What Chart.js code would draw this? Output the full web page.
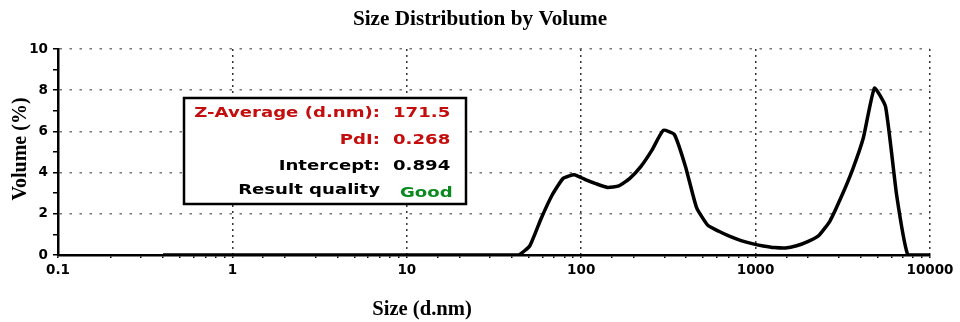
<!DOCTYPE html>
<html>
<head>
<meta charset="utf-8">
<title>Size Distribution by Volume</title>
<script src="https://cdn.jsdelivr.net/npm/chart.js@4.4.1/dist/chart.umd.min.js"></script>
<style>
  html, body { margin: 0; padding: 0; background: #fff; }
  canvas { display: block; }
</style>
</head>
<body>
<canvas id="sizeChart" width="960" height="322"></canvas>
<script>
// size classes (d.nm)
var sizes = [0.4, 0.4632, 0.5365, 0.6213, 0.7195, 0.8332, 0.9649, 1.117, 1.294, 1.499,
    1.736, 2.010, 2.328, 2.696, 3.122, 3.615, 4.187, 4.849, 5.615, 6.503,
    7.531, 8.721, 10.10, 11.70, 13.54, 15.69, 18.17, 21.04, 24.36, 28.21,
    32.67, 37.84, 43.82, 50.75, 58.77, 68.06, 78.82, 91.28, 105.7, 122.4,
    141.8, 164.2, 190.1, 220.2, 255.0, 295.3, 342.0, 396.1, 458.7, 531.2,
    615.1, 712.4, 825.0, 955.4, 1106, 1281, 1484, 1718, 1990, 2305,
    2669, 3091, 3580, 4145, 4801, 5560, 6439, 7456, 8635, 10000];

// volume (%)
var volumes = [0, 0, 0, 0, 0, 0, 0, 0, 0, 0,
    0, 0, 0, 0, 0, 0, 0, 0, 0, 0,
    0, 0, 0, 0, 0, 0, 0, 0, 0, 0,
    0, 0, 0, 0.45, 1.75, 2.9, 3.72, 3.9, 3.66, 3.45,
    3.28, 3.35, 3.72, 4.3, 5.1, 6.05, 5.85, 4.3, 2.3, 1.45,
    1.15, 0.9, 0.7, 0.55, 0.44, 0.36, 0.34, 0.45, 0.65, 0.95,
    1.65, 2.8, 4.1, 5.68, 8.1, 7.2, 2.9, 0, 0, 0];

var xTickLabels = ['0.1', '1', '10', '100', '1000', '10000'];
var yTickLabels = ['0', '2', '4', '6', '8', '10'];

var statLabels = ['Z-Average (d.nm):', 'PdI:', 'Intercept:', 'Result quality'];
var statValues = ['171.5', '0.268', '0.894', 'Good'];

function isDecade(v) {
    var lg = Math.log10(v);
    return Math.abs(lg - Math.round(lg)) < 1e-6;
}

// text drawn stretched horizontally like the original export
function wideText(ctx, text, x, y, sx, align) {
    ctx.save();
    ctx.translate(x, y);
    ctx.scale(sx, 1);
    ctx.textAlign = align;
    ctx.fillText(text, 0, 0);
    ctx.restore();
}

var tickFont = { family: 'DejaVu Sans', weight: 'bold', size: 13.5 };

var labelsPlugin = {
    id: 'labels',
    afterDraw: function (chart) {
        var ctx = chart.ctx;
        var ca = chart.chartArea;

        ctx.save();
        ctx.fillStyle = '#000';
        ctx.textBaseline = 'alphabetic';

        // title and axis titles
        ctx.font = 'bold 20px "Liberation Serif"';
        wideText(ctx, 'Size Distribution by Volume', 480, 25, 1.06, 'center');
        wideText(ctx, 'Size (d.nm)', 422, 315, 1.03, 'center');

        ctx.save();
        ctx.translate(26, 149);
        ctx.rotate(-Math.PI / 2);
        ctx.textAlign = 'center';
        ctx.fillText('Volume (%)', 0, 0);
        ctx.restore();

        // results box
        var bx = ca.left + 126, by = ca.top + 49, bw = 282, bh = 106;
        ctx.fillStyle = '#fff';
        ctx.fillRect(bx, by, bw, bh);
        ctx.lineWidth = 2.5;
        ctx.strokeStyle = '#000';
        ctx.strokeRect(bx, by, bw, bh);

        var colors = ['#c40d0d', '#c40d0d', '#000', '#000'];
        var valueColors = ['#c40d0d', '#c40d0d', '#000', '#0a8a1e'];
        var baselines = [19, 46, 72, 96];
        ctx.font = 'bold 13.5px "DejaVu Sans"';
        for (var i = 0; i < statLabels.length; i++) {
            ctx.fillStyle = colors[i];
            wideText(ctx, statLabels[i], bx + 196, by + baselines[i], 1.34, 'right');
            ctx.fillStyle = valueColors[i];
            if (i === 3) {
                wideText(ctx, statValues[i], bx + 216, by + baselines[i] + 3, 1.34, 'left');
            } else {
                wideText(ctx, statValues[i], bx + 209, by + baselines[i], 1.34, 'left');
            }
        }
        ctx.restore();
    }
};

var points = sizes.map(function (s, i) { return { x: s, y: volumes[i] }; });

new Chart(document.getElementById('sizeChart'), {
    type: 'line',
    data: {
        datasets: [{
            data: points,
            borderColor: '#000',
            borderWidth: 3.5,
            pointRadius: 0,
            tension: 0.15,
            fill: false
        }]
    },
    options: {
        responsive: false,
        animation: false,
        devicePixelRatio: 1,
        layout: { padding: { top: 49, right: 30, bottom: 0, left: 0 } },
        plugins: {
            legend: { display: false },
            tooltip: { enabled: false },
            title: { display: false }
        },
        scales: {
            x: {
                type: 'logarithmic',
                min: 0.1,
                max: 10000,
                afterFit: function (s) {
                    s.height = 67;
                    s.paddingLeft = 0;
                    s.paddingRight = 0;
                },
                ticks: {
                    autoSkip: false,
                    maxRotation: 0,
                    padding: 4,
                    color: '#000',
                    font: tickFont,
                    callback: function (v) {
                        return isDecade(v) ? xTickLabels[Math.round(Math.log10(v)) + 1] : '';
                    }
                },
                grid: {
                    color: function (c) {
                        if (!c.tick) return 'rgba(0,0,0,0)';
                        return isDecade(c.tick.value) && c.tick.value > 0.11 ? '#333' : 'rgba(0,0,0,0)';
                    },
                    lineWidth: 1.5,
                    tickLength: 3,
                    tickWidth: 1.5,
                    tickColor: '#000'
                },
                border: { display: true, color: '#000', width: 2.5, dash: [2, 4] }
            },
            y: {
                type: 'linear',
                min: 0,
                max: 10,
                afterFit: function (s) {
                    s.width = 58;
                    s.paddingTop = 0;
                    s.paddingBottom = 0;
                },
                ticks: {
                    stepSize: 1,
                    padding: 5,
                    color: '#000',
                    font: tickFont,
                    callback: function (v) {
                        return v % 2 === 0 ? yTickLabels[v / 2] : '';
                    }
                },
                grid: {
                    color: function (c) {
                        if (!c.tick) return 'rgba(0,0,0,0)';
                        var v = c.tick.value;
                        return v > 0 && v % 2 === 0 ? '#777' : 'rgba(0,0,0,0)';
                    },
                    lineWidth: 1.5,
                    tickLength: 5,
                    tickWidth: 1.5,
                    tickColor: '#000'
                },
                border: { display: true, color: '#000', width: 2.5, dash: [2.5, 7.5] }
            }
        }
    },
    plugins: [labelsPlugin]
});
</script>
</body>
</html>
